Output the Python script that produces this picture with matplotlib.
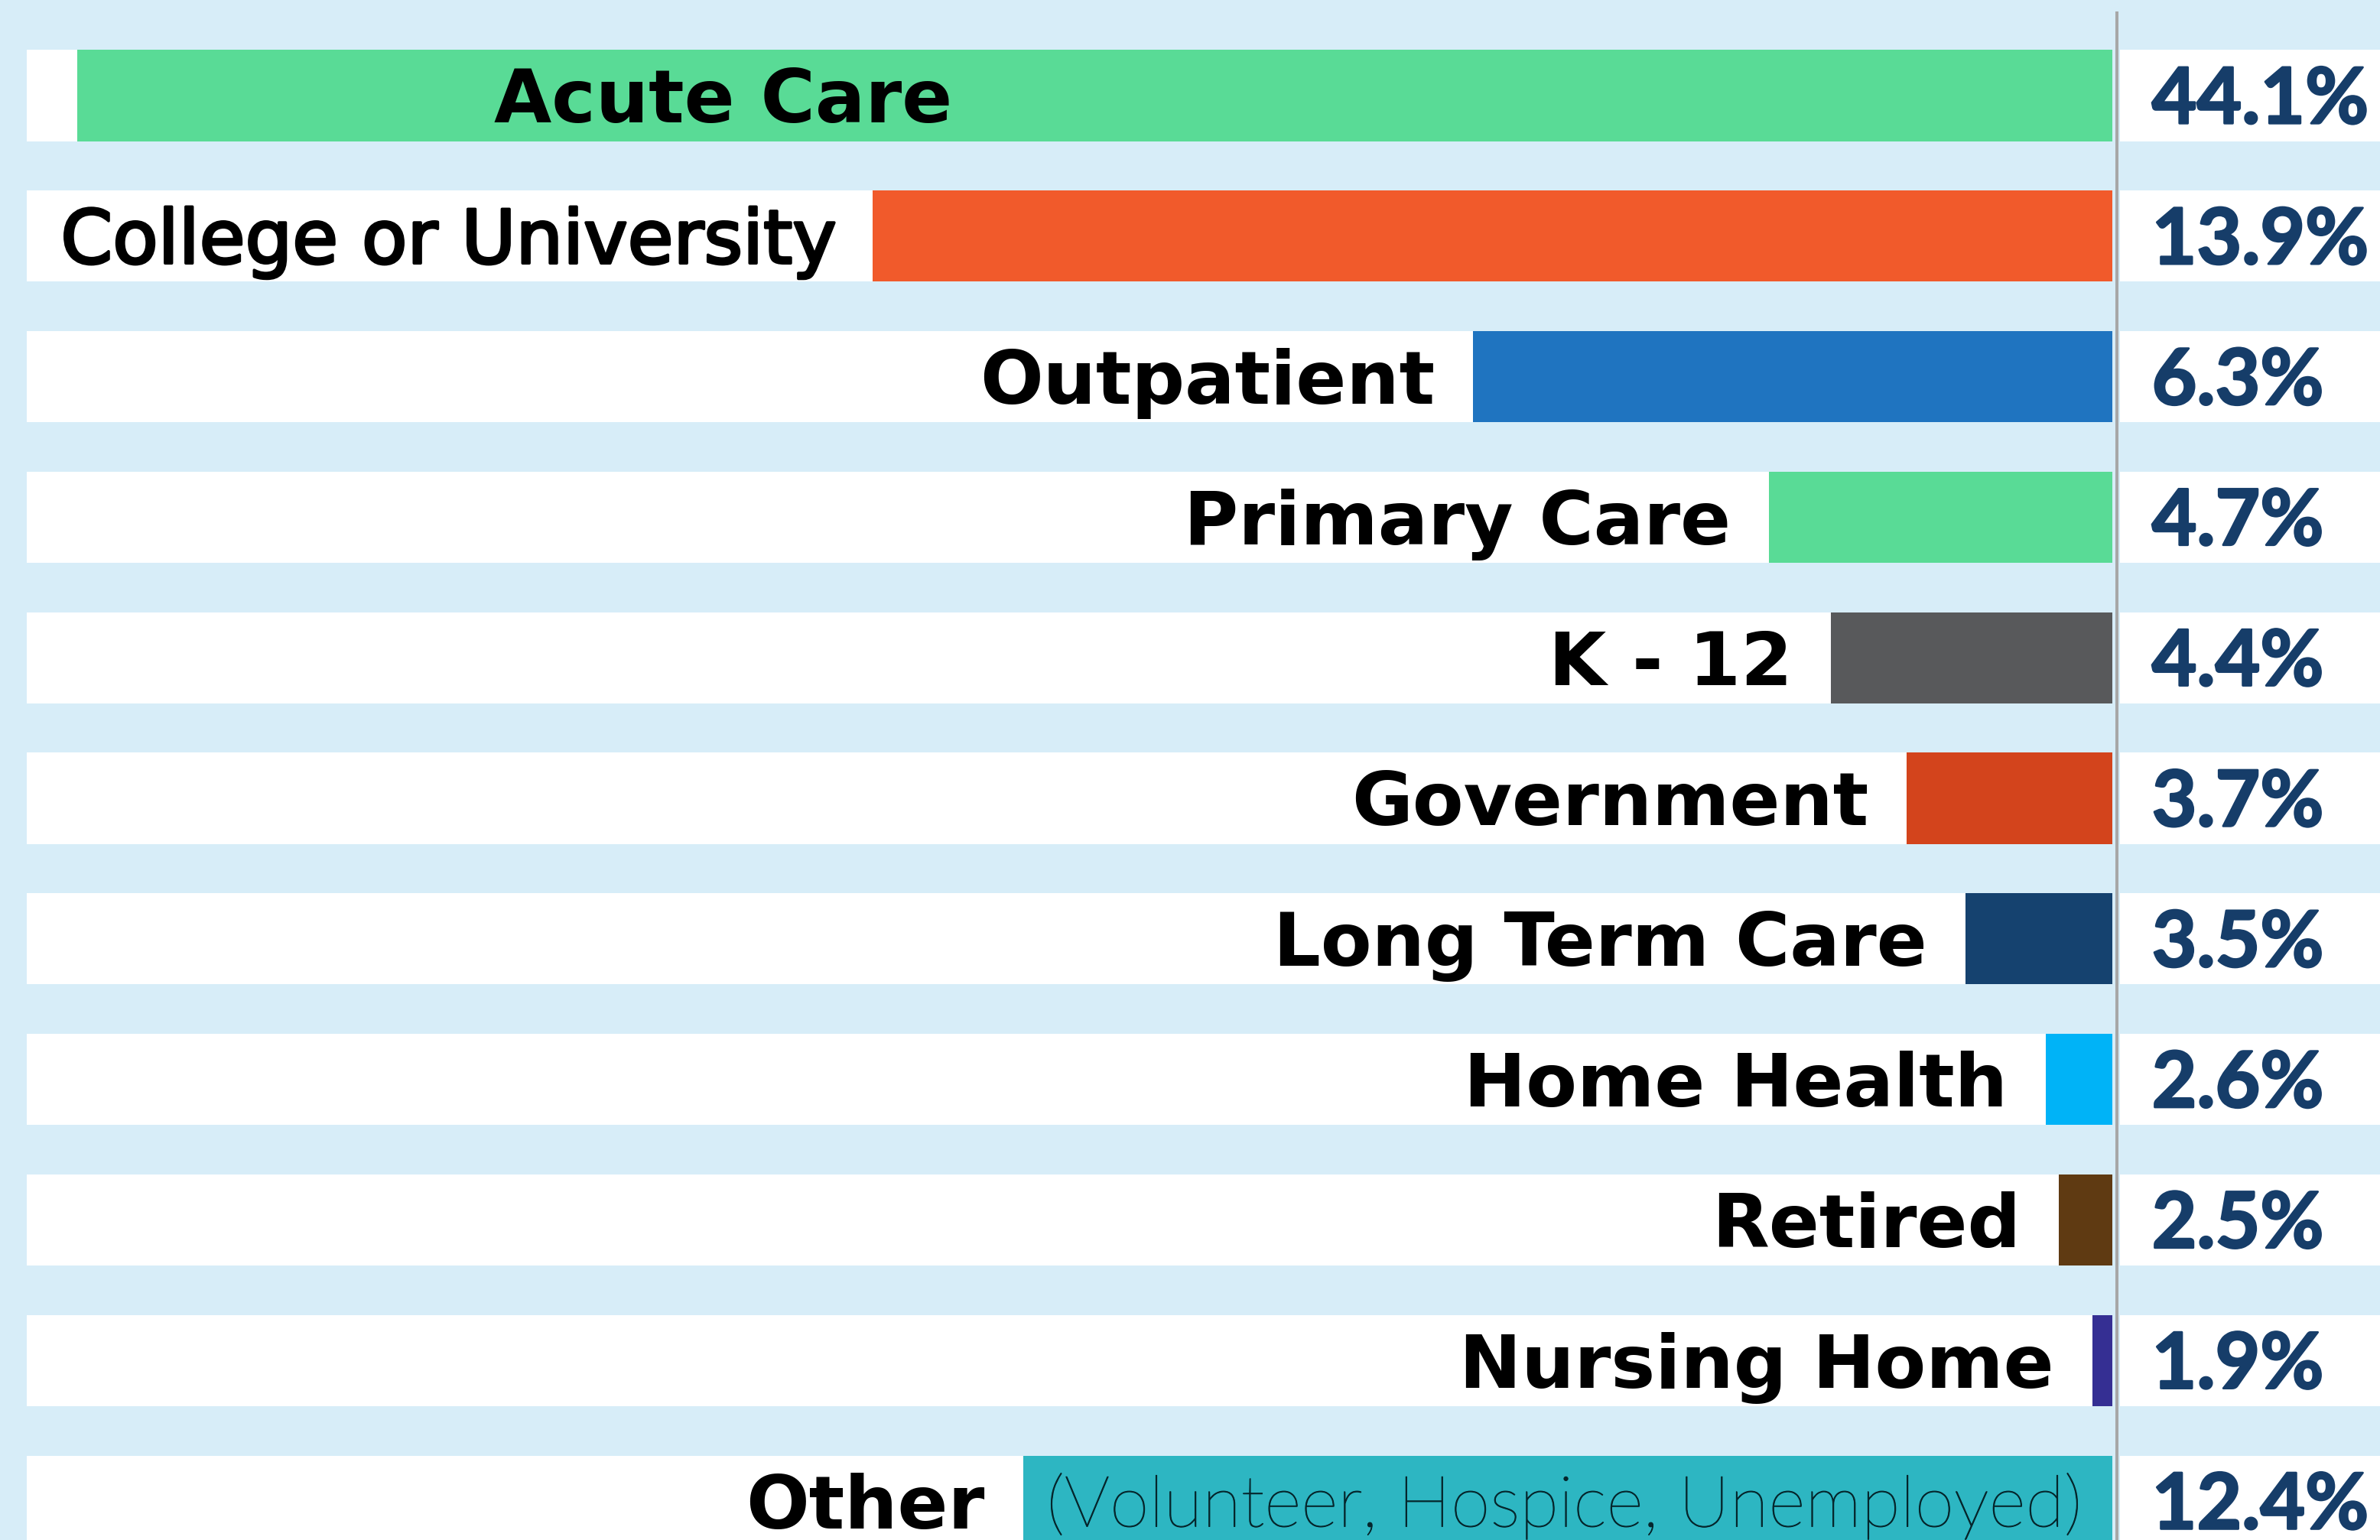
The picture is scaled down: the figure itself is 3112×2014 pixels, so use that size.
import numpy as np
import matplotlib
matplotlib.use("Agg")
import matplotlib.pyplot as plt
import matplotlib.transforms as mtransforms
from matplotlib import patheffects as pe
from matplotlib.lines import Line2D

# ---------------- data ----------------
categories = ["Acute Care", "College or University", "Outpatient", "Primary Care",
              "K - 12", "Government", "Long Term Care", "Home Health", "Retired",
              "Nursing Home", "Other"]
shares = [44.1, 13.9, 6.3, 4.7, 4.4, 3.7, 3.5, 2.6, 2.5, 1.9, 12.4]
pct_labels = ["44.1%", "13.9%", "6.3%", "4.7%", "4.4%", "3.7%", "3.5%", "2.6%",
              "2.5%", "1.9%", "12.4%"]
other_note = "(Volunteer, Hospice, Unemployed)"
bar_colors = ["#59DB96", "#F15A2B", "#1F74C0", "#59DB96", "#58595B", "#D3441C",
              "#15426F", "#00B3F7", "#5F3A12", "#352F93", "#2DB6C2"]

# the infographic's non-linear value axis: value -> share of the bar track
scale_values = [0.0, 1.9, 2.5, 2.6, 3.5, 3.7, 4.4, 4.7, 6.3, 12.4, 13.9, 44.1, 50.0]
scale_track = [0.0, 0.0095, 0.0257, 0.0319, 0.0704, 0.0986, 0.1349, 0.1647,
               0.3066, 0.5222, 0.5944, 0.9758, 1.10]


def fwd(x):
    return np.interp(x, scale_values, scale_track)


def inv(t):
    return np.interp(t, scale_track, scale_values)


# ---------------- style ----------------
BG = "#D7EDF8"
NAVY = "#163D69"
W, H = 3112, 2014
fig = plt.figure(figsize=(W / 100, H / 100), dpi=100, facecolor=BG)

row_h = 0.648
y_top, y_bot = -0.680, 10.277
n = len(categories)
ys = np.arange(n)

ax = fig.add_axes([35 / W, 0, (2762 - 35) / W, 1])
axp = fig.add_axes([2772 / W, 0, 1 - 2772 / W, 1])
for a in (ax, axp):
    a.set_ylim(y_bot, y_top)
    a.axis("off")

ax.set_xscale("function", functions=(fwd, inv))
ax.set_xlim(float(inv(1.0)), 0)
axp.set_xlim(0, 1)

for i in ys:
    ax.axhspan(i - row_h / 2, i + row_h / 2, color="white", zorder=0, lw=0)
    axp.axhspan(i - row_h / 2, i + row_h / 2, color="white", zorder=0, lw=0)

ax.barh(ys, shares, left=0, height=row_h, color=bar_colors, zorder=2, lw=0)

FS = 70
GAP = -36
cap_off = -0.729 * FS / 2
for i, (cat, v) in enumerate(zip(categories, shares)):
    if i == 0:
        tr = mtransforms.blended_transform_factory(ax.transAxes, ax.transData)
        ax.annotate(cat, xy=(0.334, i), xycoords=tr, xytext=(0, cap_off),
                    textcoords="offset points", ha="center", va="baseline",
                    fontsize=FS, fontweight="bold", family="DejaVu Sans",
                    color="black", zorder=3)
    elif cat == "College or University":
        ax.annotate(cat, xy=(v, i), xytext=(GAP + 2, cap_off), textcoords="offset points",
                    ha="right", va="baseline", fontsize=FS, family="DejaVu Sans",
                    color="black", zorder=3,
                    path_effects=[pe.withStroke(linewidth=2.6, foreground="black")])
    else:
        ax.annotate(cat, xy=(v, i), xytext=(GAP, cap_off), textcoords="offset points",
                    ha="right", va="baseline", fontsize=FS, fontweight="bold",
                    family="DejaVu Sans", color="black", zorder=3)

# note inside the "Other" bar
FSN = 67
ax.annotate(other_note, xy=(shares[-1], n - 1), xytext=(22, -0.7165 * FSN / 2),
            textcoords="offset points", ha="left", va="baseline", fontsize=FSN,
            fontweight="light", family="Lato", color="#05262C", zorder=3,
            path_effects=[pe.withStroke(linewidth=0.8, foreground="#05262C")])

# percentage column
FSP = 73
trp = mtransforms.blended_transform_factory(axp.transAxes, axp.transData)
for i, lab in enumerate(pct_labels):
    axp.annotate(lab, xy=(0, i), xycoords=trp, xytext=(30, -0.7165 * FSP / 2),
                 textcoords="offset points", ha="left", va="baseline",
                 fontsize=FSP, fontweight="bold", family="Lato", color=NAVY, zorder=3,
                 path_effects=[pe.withStroke(linewidth=2.0, foreground=NAVY)])

fig.add_artist(Line2D([2768 / W, 2768 / W], [0, 1 - 17 / H], transform=fig.transFigure,
                      color="#A7A7A7", lw=2.9, zorder=10))

fig.savefig("out.png", dpi=100, facecolor=BG)
